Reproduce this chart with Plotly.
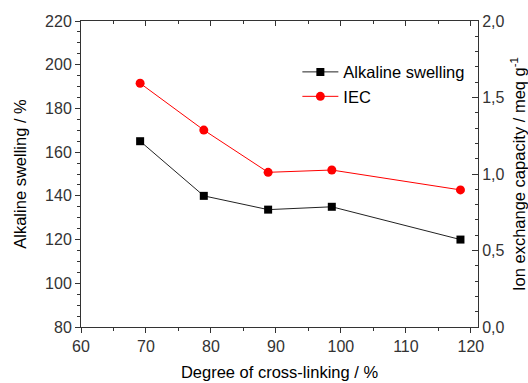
import plotly.graph_objects as go

crosslink = [69.1, 78.9, 88.8, 98.6, 118.4]
swelling = [165.0, 140.0, 133.7, 135.0, 120.0]
iec = [1.593, 1.287, 1.011, 1.026, 0.896]

font = "Arial, Liberation Sans, sans-serif"
axcol = "#333333"
tickcol = "#333333"

fig = go.Figure()
fig.add_trace(go.Scatter(x=crosslink, y=swelling, name="Alkaline swelling",
                         mode="lines+markers",
                         line=dict(color="#222222", width=1),
                         marker=dict(symbol="square", size=8, color="black")))
fig.add_trace(go.Scatter(x=crosslink, y=iec, name="IEC", yaxis="y2",
                         mode="lines+markers",
                         line=dict(color="red", width=1),
                         marker=dict(symbol="circle", size=9, color="red")))
fig.add_trace(go.Scatter(x=[60], y=[80], xaxis="x2", yaxis="y", mode="markers",
                         marker=dict(opacity=0), showlegend=False, hoverinfo="skip"))

fig.update_layout(
    width=528, height=383,
    margin=dict(l=81, r=50, t=21, b=56),
    paper_bgcolor="white", plot_bgcolor="white",
    separators=",.",
    font=dict(family=font, size=16, color="black"),
    showlegend=True,
    legend=dict(x=0.545, y=0.89, xanchor="left", yanchor="top",
                bgcolor="rgba(0,0,0,0)", font=dict(size=16.5, color="black"),
                tracegroupgap=0, itemwidth=36),
    xaxis=dict(range=[60, 121.1], dtick=10, tick0=60, ticks="outside", ticklen=5,
               showline=True, linecolor=axcol, linewidth=1, showgrid=False,
               zeroline=False, tickfont=dict(size=16, color=tickcol), automargin=False,
               minor=dict(dtick=5, ticks="outside", ticklen=3, tickcolor=axcol),
               tickcolor=axcol,
               title=dict(text="Degree of cross-linking / %", font=dict(size=16.5), standoff=12)),
    xaxis2=dict(range=[60, 121.1], dtick=10, tick0=60, ticks="inside", ticklen=5,
                overlaying="x", side="top", showline=True, linecolor=axcol, linewidth=1,
                showgrid=False, zeroline=False, showticklabels=False, tickcolor=axcol,
                automargin=False,
                minor=dict(dtick=5, ticks="inside", ticklen=3, tickcolor=axcol)),
    yaxis=dict(range=[80, 220], dtick=20, ticks="outside", ticklen=5,
               showline=True, linecolor=axcol, linewidth=1, showgrid=False,
               zeroline=False, tickfont=dict(size=16, color=tickcol), tickcolor=axcol,
               automargin=False,
               minor=dict(dtick=5, ticks="outside", ticklen=3, tickcolor=axcol),
               title=dict(text="Alkaline swelling / %", font=dict(size=16.5), standoff=14)),
    yaxis2=dict(range=[0, 2], dtick=0.5, tickformat=".1f", ticks="inside", ticklen=6,
                overlaying="y", side="right", showline=True, linecolor=axcol, linewidth=1,
                showgrid=False, zeroline=False, tickfont=dict(size=16, color=tickcol),
                tickcolor=axcol, automargin=False,
                minor=dict(dtick=0.1, ticks="inside", ticklen=3, tickcolor=axcol),
                title=dict(text="Ion exchange capacity / meq g<sup>-1</sup>",
                           font=dict(size=16.5), standoff=10)),
)

fig.write_html("out.html")
